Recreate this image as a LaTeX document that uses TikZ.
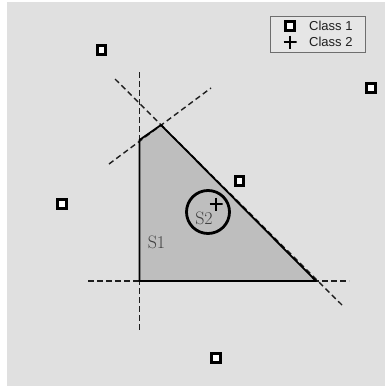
\documentclass[tikz,border=0pt]{standalone}
\usepackage{fontspec}
\newfontfamily\legendfont{Liberation Sans}
\definecolor{bggray}{RGB}{224,224,224}
\definecolor{regiongray}{RGB}{190,190,190}
\definecolor{dashgray}{RGB}{30,30,30}
\definecolor{labelgray}{RGB}{64,64,64}
\definecolor{legborder}{RGB}{110,110,110}
\definecolor{legfill}{RGB}{230,230,230}
\begin{document}
\begin{tikzpicture}[x=1pt,y=-1pt,
  boundary/.style={dash pattern=on 5.5pt off 3.5pt, line width=1.4pt, draw=dashgray},
  classone/.style={draw=black, fill=white, line width=2.7pt, minimum size=8.5pt, inner sep=0pt, rectangle},
  classtwo/.style={inner sep=0pt, minimum size=13pt, path picture={\draw[line width=1.7pt] (path picture bounding box.north) -- (path picture bounding box.south) (path picture bounding box.west) -- (path picture bounding box.east);}},
  slabel/.style={text=labelgray, font=\fontsize{18}{19}\selectfont, inner sep=0pt},
  legendtext/.style={font=\legendfont\fontsize{13}{14}\selectfont, text=dashgray, inner sep=0pt, anchor=west}
]
\useasboundingbox (0,0) rectangle (385,388);
\fill[white] (0,0) rectangle (385,388);
\fill[bggray] (7,2) rectangle (385,386);

% polygon vertices
\coordinate (A) at (139.5,140);
\coordinate (B) at (161,125);
\coordinate (C) at (316,281);
\coordinate (D) at (139.5,281);

\fill[regiongray] (A) -- (B) -- (C) -- (D) -- cycle;

% boundary line end points
\coordinate (v1) at (139.5,72);
\coordinate (v2) at (139.5,332);
\coordinate (h1) at (88,281);
\coordinate (h2) at (349,281);
\coordinate (d1) at (115,79);
\coordinate (d2) at (342,305);
\coordinate (e1) at (109,164);
\coordinate (e2) at (211,88);

\draw[boundary] (v1) -- (v2);
\draw[boundary] (h1) -- (h2);
\draw[boundary] (d1) -- (d2);
\draw[boundary] (e1) -- (e2);

\draw[line width=1.8pt, line join=round] (A) -- (B) -- (C) -- (D) -- cycle;

% circle S2
\node[circle, draw=black, line width=2.8pt, minimum size=43pt, inner sep=0pt] (circ) at (208,212) {};
\node[classtwo] (p1) at (216,204) {};
\node[slabel] (s2) at (204,218) {S2};
\node[slabel] (s1) at (156.5,242) {S1};

% class 1 points
\node[classone] (q1) at (101.5,50) {};
\node[classone] (q2) at (371,88) {};
\node[classone] (q3) at (239.5,181) {};
\node[classone] (q4) at (62,204) {};
\node[classone] (q5) at (216,358) {};

% legend
\node[draw=legborder, line width=1pt, fill=legfill, minimum width=95pt, minimum height=36pt, inner sep=0pt] (leg) at (317.5,34) {};
\node[classone] (lq) at (290,26) {};
\node[classtwo] (lp) at (290,42) {};
\node[legendtext] (lt1) at (309,26) {Class 1};
\node[legendtext] (lt2) at (309,42) {Class 2};
\end{tikzpicture}
\end{document}
